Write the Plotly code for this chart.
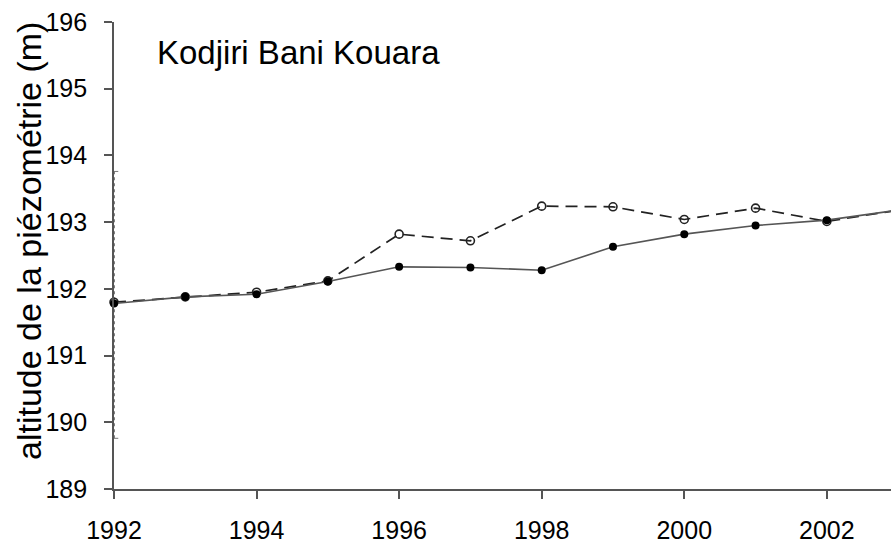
import plotly.graph_objects as go

# Annual piezometric levels (m) at Kodjiri Bani Kouara
years = [1992, 1993, 1994, 1995, 1996, 1997, 1998, 1999, 2000, 2001, 2002, 2003]
observed = [191.78, 191.88, 191.92, 192.11, 192.33, 192.32, 192.28, 192.63, 192.82, 192.95, 193.03, 193.18]
simulated = [191.80, 191.88, 191.95, 192.12, 192.82, 192.72, 193.24, 193.23, 193.04, 193.21, 193.01, 193.18]

# Dotted range bar on the first year
range_year = [1992, 1992]
range_bounds = [189.76, 193.76]

y_ticks = [189, 190, 191, 192, 193, 194, 195, 196]
x_ticks = [1992, 1994, 1996, 1998, 2000, 2002]

FONT = "Arial, Liberation Sans, sans-serif"

fig = go.Figure()

fig.add_trace(go.Scatter(
    x=range_year, y=range_bounds, mode="lines",
    line=dict(color="#555555", width=1.5, dash="dot"),
    hoverinfo="skip", showlegend=False,
))
for yb in range_bounds:
    fig.add_shape(type="line", xref="x", yref="y",
                  x0=range_year[0], x1=range_year[0] + 0.06, y0=yb, y1=yb,
                  line=dict(color="#777777", width=1))

fig.add_trace(go.Scatter(
    x=years, y=simulated, mode="lines+markers",
    line=dict(color="#222222", width=1.7, dash="12px,7px"),
    marker=dict(symbol="circle-open", size=8, color="#222222", line=dict(width=1.6)),
    cliponaxis=False, showlegend=False,
))
fig.add_trace(go.Scatter(
    x=years, y=observed, mode="lines+markers",
    line=dict(color="#555555", width=1.6),
    marker=dict(symbol="circle", size=8, color="#000000"),
    cliponaxis=False, showlegend=False,
))

fig.add_annotation(
    text="Kodjiri Bani Kouara", xref="paper", yref="paper",
    x=(155 - 114) / 777, y=(493.3 - 53) / 471.3, xanchor="left", yanchor="middle",
    showarrow=False, font=dict(family=FONT, size=33, color="#000000"),
)
fig.add_annotation(
    text="altitude de la piézométrie (m)", xref="paper", yref="paper",
    x=(29 - 114) / 777, y=(493.3 - 243) / 471.3, xanchor="center", yanchor="middle",
    textangle=-90, showarrow=False, font=dict(family=FONT, size=34, color="#000000"),
)

fig.update_xaxes(
    range=[1992, 2002.9], tickvals=x_ticks, ticks="outside", ticklen=8,
    tickcolor="#555555", tickwidth=1.5, showline=True, linecolor="#555555", linewidth=1.8,
    showgrid=False, zeroline=False, tickfont=dict(family=FONT, size=25, color="#000000"),
    ticklabelstandoff=10,
)
fig.update_yaxes(
    range=[189, 196], tickvals=y_ticks, ticks="outside", ticklen=8,
    tickcolor="#555555", tickwidth=1.5, showline=True, linecolor="#555555", linewidth=1.8,
    showgrid=False, zeroline=False, tickfont=dict(family=FONT, size=25, color="#000000"),
    ticklabelstandoff=12,
)

fig.update_layout(
    width=891, height=544,
    margin=dict(l=114, r=0, t=22, b=51),
    paper_bgcolor="white", plot_bgcolor="white",
)

fig.write_html("out.html")
